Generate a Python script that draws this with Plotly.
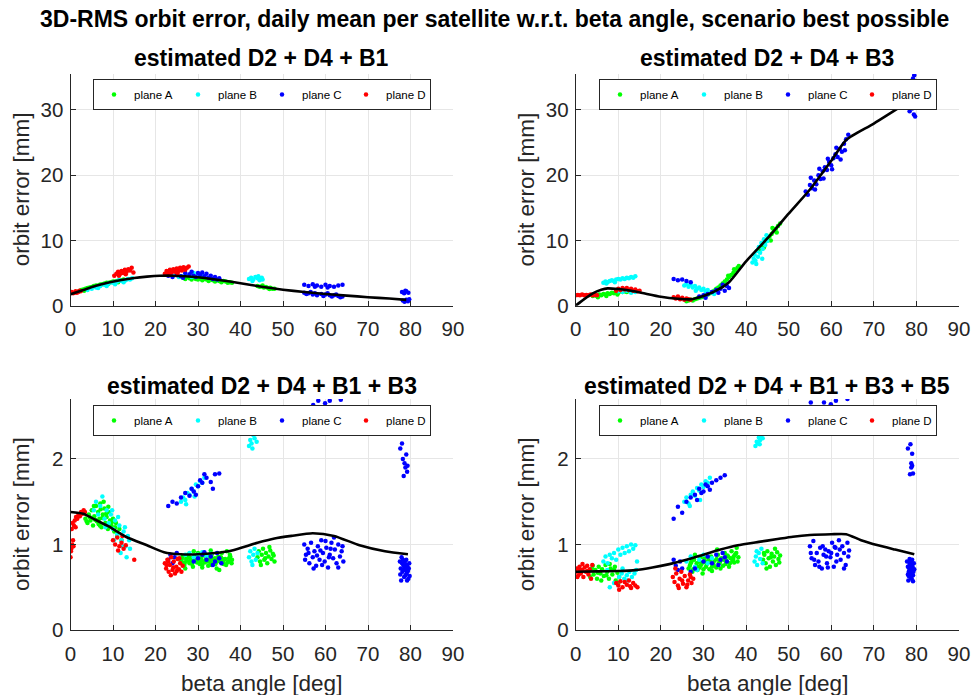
import plotly.graph_objects as go

# ---------------- data ----------------
plane_names = ["plane A", "plane B", "plane C", "plane D"]
plane_colors = ["#00ff00", "#00ffff", "#0000ff", "#ff0000"]
panel_titles = ["estimated D2 + D4 + B1", "estimated D2 + D4 + B3",
                "estimated D2 + D4 + B1 + B3", "estimated D2 + D4 + B1 + B3 + B5"]
x_ticks = [0, 10, 20, 30, 40, 50, 60, 70, 80, 90]
y_ticks_top = [0, 10, 20, 30]
y_ticks_bottom = [0, 1, 2]

# ---- panel 1 : D2 + D4 + B1 ----
p1_A_x = [2.0, 2.5, 3.0, 3.5, 4.0, 4.5, 5.0, 5.5, 6.0, 6.5, 7.0, 7.5, 8.0, 8.5, 9.0, 9.5, 10.0, 10.5, 11.0, 11.5, 12.0, 12.5, 3.2, 6.2, 8.8, 11.2,
          26.5, 27, 27.5, 28, 28.5, 29, 29.5, 30, 30.5, 31, 31.5, 32, 32.5, 33, 33.5, 34, 34.5, 35, 35.5, 36, 36.5, 37, 37.5, 38,
          44, 44.5, 45, 45.5, 46, 46.5, 47, 47.5, 48, 45.2, 46.8]
p1_A_y = [2.2, 2.4, 2.5, 2.6, 2.7, 2.8, 2.85, 3.0, 3.1, 3.1, 3.25, 3.3, 3.4, 3.5, 3.5, 3.6, 3.7, 3.7, 3.8, 3.9, 3.9, 4.0, 2.3, 2.9, 3.3, 3.6,
          4.3, 4.1, 4.4, 4.2, 4.0, 4.3, 4.1, 4.0, 4.2, 3.9, 4.1, 4.0, 3.8, 4.0, 3.9, 3.7, 3.9, 3.8, 3.6, 3.8, 3.7, 3.5, 3.6, 3.5,
          3.0, 2.9, 2.95, 2.8, 2.85, 2.7, 2.75, 2.6, 2.6, 3.1, 2.55]
p1_B_x = [4, 5, 6, 7, 8, 9, 10, 11, 12, 13, 14, 14.5, 13.5, 12.5, 10.5, 8.5, 6.5, 11.5,
          24, 25, 26, 27, 28, 29, 30, 31, 25.5, 28.5,
          42, 42.5, 43, 43.5, 44, 44.5, 45, 42.8, 44.2, 45.2]
p1_B_y = [2.4, 2.6, 2.8, 3.0, 3.2, 3.4, 3.5, 3.7, 3.8, 3.9, 4.0, 4.2, 4.1, 3.6, 3.3, 3.0, 2.7, 3.9,
          4.6, 4.8, 4.5, 4.9, 4.7, 5.0, 4.6, 4.8, 4.4, 4.4,
          4.1, 4.3, 4.0, 4.4, 4.2, 3.9, 4.3, 3.8, 4.5, 4.0]
p1_C_x = [23, 23.5, 24, 25, 26, 27, 28, 28.5, 29, 30, 30.5, 31, 31.5, 32, 32.5, 33, 33.5, 34, 34.5, 35, 26.5, 29.5,
          55, 56, 57, 58, 59, 60, 61, 62, 63, 64, 57.5, 60.5,
          55, 55.5, 56, 57, 57.5, 58, 59, 59.5, 60, 61, 61.5, 62, 63, 63.5, 64, 56.5, 60.5, 62.5,
          78, 78.5, 79, 79.5, 78.2, 78.6, 79, 79.4, 79.7, 78.8]
p1_C_y = [4.6, 4.8, 4.4, 4.7, 4.5, 5.0, 4.8, 5.2, 4.6, 5.0, 4.7, 5.1, 4.5, 4.9, 4.3, 4.6, 4.1, 4.4, 4.0, 4.2, 4.3, 4.4,
          3.2, 3.0, 3.3, 3.1, 2.9, 3.2, 3.0, 2.9, 3.1, 3.2, 2.9, 2.8,
          2.0, 1.8, 1.9, 1.7, 1.9, 1.6, 1.8, 1.5, 1.7, 1.6, 1.4, 1.6, 1.5, 1.3, 1.4, 2.1, 1.9, 1.7,
          2.1, 1.9, 2.2, 2.0, 0.8, 0.6, 0.9, 0.7, 1.0, 2.3]
p1_D_x = [0, 0.3, 0.6, 0.9, 1.2, 1.5, 1.8, 2.1, 2.4,
          10.3, 10.8, 11.2, 11.6, 12, 12.4, 12.8, 13.2, 13.6, 14, 14.4, 14.8, 11.4, 13,
          22.2, 22.6, 23, 23.4, 23.8, 24.2, 24.6, 25, 25.4, 25.8, 26.2, 26.6, 27, 27.4, 27.8, 23.2, 25.2]
p1_D_y = [2.0, 2.1, 1.9, 2.0, 2.2, 2.0, 2.1, 2.3, 2.2,
          4.6, 4.9, 5.2, 4.8, 5.3, 5.0, 5.5, 5.2, 5.6, 5.4, 5.8, 5.1, 4.6, 4.8,
          4.9, 5.3, 5.0, 5.5, 5.1, 5.6, 5.2, 5.7, 5.3, 5.8, 5.4, 5.9, 5.5, 5.8, 6.0, 4.7, 4.9]
p1_line_x = [0, 3, 6, 9, 12, 15, 18, 21, 24, 27, 30, 35, 40, 45, 50, 55, 60, 65, 70, 75, 79]
p1_line_y = [1.75, 2.4, 3.05, 3.55, 3.95, 4.25, 4.45, 4.58, 4.6, 4.52, 4.35, 3.95, 3.45, 2.9, 2.45, 2.1, 1.8, 1.55, 1.3, 1.1, 0.9]

# ---- panel 2 : D2 + D4 + B3 ----
p2_A_x = [4, 4.5, 5, 5.5, 6, 6.5, 7, 7.5, 8, 8.5, 9, 9.5, 10, 10.5, 11, 11.5, 12, 5.2, 7.2, 9.8,
          26, 26.5, 27, 27.5, 28, 28.5, 29, 29.5, 30, 30.5, 31, 31.5, 32, 32.5, 33, 33.5, 34, 34.5, 35, 35.5, 36, 36.5, 37, 37.5, 38, 38.3, 35.8, 37.2,
          43, 43.5, 44, 44.5, 45, 45.5, 46, 46.5, 47, 47.5, 48, 44.2, 45.8, 47.2, 46.2]
p2_A_y = [1.5, 1.6, 1.5, 1.7, 1.6, 1.8, 1.7, 1.9, 1.8, 2.0, 1.9, 2.1, 2.0, 2.2, 2.1, 2.2, 2.1, 1.3, 1.5, 1.7,
          0.7, 0.8, 0.9, 0.8, 1.0, 1.1, 1.2, 1.3, 1.4, 1.6, 1.7, 1.9, 2.1, 2.3, 2.6, 2.8, 3.1, 3.4, 3.7, 4.0, 4.4, 4.7, 5.0, 5.4, 5.8, 6.1, 4.6, 5.6,
          8.6, 9.0, 9.4, 9.8, 10.2, 10.6, 11.0, 11.4, 11.8, 12.2, 12.6, 8.9, 10.0, 11.2, 11.9]
p2_B_x = [6.5, 7, 7.5, 8, 8.5, 9, 9.5, 10, 10.5, 11, 11.5, 12, 12.5, 13, 13.5, 14, 7.2, 9.2,
          10, 11, 12, 13, 14, 11.5,
          25.5, 26, 26.5, 27, 27.5, 28, 28.5, 29, 29.5, 30, 30.5, 31, 31.5, 32, 32.5, 28.2,
          41.5, 41.8, 42, 42.2, 42.5, 42.8, 43, 43.3, 43.6, 43.9, 44.2, 44.5, 44.8, 45, 42.4, 43.8]
p2_B_y = [3.5, 3.7, 3.6, 3.8, 3.9, 3.8, 4.0, 4.1, 4.0, 4.2, 4.1, 4.3, 4.2, 4.4, 4.3, 4.5, 3.4, 3.6,
          2.2, 2.1, 2.3, 2.0, 2.1, 2.4,
          3.1, 3.3, 2.9, 3.2, 2.8, 3.0, 2.6, 2.8, 2.4, 2.6, 2.2, 2.4, 2.0, 2.1, 1.8, 2.3,
          6.6, 7.2, 7.8, 6.9, 8.4, 7.5, 9.0, 8.1, 9.6, 8.7, 10.2, 9.3, 10.8, 9.9, 6.4, 7.2]
p2_C_x = [23, 24, 25, 26, 27,
          29, 30, 31, 32, 33, 34, 35, 36, 33.5, 35.5, 30.5, 34.5,
          54, 54.5, 55, 55.5, 56, 56.5, 57, 57.5, 58, 58.5, 59, 59.5, 60, 60.5, 61, 61.5, 62, 62.5, 63, 63.5, 64, 55.2, 57.2, 59.2, 61.2, 63.2, 56.2, 58.2, 60.2, 62.2,
          77.8, 78, 78.2, 78.4, 78.6, 78.8, 79, 79.2, 79.4, 79.6, 79.8, 79.2, 79.5, 78.9, 80, 79.7]
p2_C_y = [4.1, 3.9, 4.0, 3.8, 3.6,
          1.4, 1.6, 1.8, 2.1, 2.4, 2.6, 2.3, 2.7, 2.0, 3.0, 1.2, 3.2,
          17.5, 17.0, 18.5, 18.0, 19.2, 18.6, 20.0, 19.4, 20.6, 21.2, 20.8, 22.0, 21.5, 22.6, 23.2, 22.8, 24.0, 23.6, 24.8, 25.5, 26.2, 19.6, 21.0, 22.5, 24.2, 23.8, 17.8, 19.5, 20.9, 22.4,
          31.5, 30.5, 32.2, 29.8, 31.0, 32.8, 30.2, 31.8, 29.3, 33.5, 30.8, 34.8, 35.3, 33.9, 31.2, 29.0]
p2_D_x = [0, 0.5, 1, 1.5, 2, 2.5, 3, 3.5, 4, 4.5, 5,
          9.5, 10, 10.5, 11, 11.5, 12, 12.5, 13, 13.5, 14, 14.5, 15,
          23, 23.5, 24, 24.5, 25, 25.5, 26, 26.5, 27]
p2_D_y = [1.6, 1.65, 1.6, 1.7, 1.6, 1.65, 1.6, 1.7, 1.6, 1.65, 1.6,
          2.3, 2.6, 2.4, 2.7, 2.5, 2.7, 2.4, 2.6, 2.3, 2.5, 2.2, 2.3,
          1.3, 1.1, 1.4, 1.0, 1.2, 0.9, 1.1, 1.0, 0.9]
p2_line_x = [0, 2, 4, 6, 7.5, 10, 13, 16, 20, 24, 27, 30, 33, 36, 40, 45, 50, 55, 60, 63.5, 70, 79]
p2_line_y = [0.0, 1.0, 1.9, 2.45, 2.65, 2.55, 2.3, 1.9, 1.38, 1.07, 0.98, 1.5, 2.3, 3.6, 6.8, 10.3, 14.1, 17.8, 22.2, 25.4, 27.9, 31.6]

# ---- panel 3 : D2 + D4 + B1 + B3 ----
p3_A_x = [3.5, 4, 4.3, 4.7, 5, 5.3, 5.6, 6, 6.2, 6.5, 6.8, 7, 7.3, 7.6, 8, 8.2, 8.5, 8.8, 9, 9.3, 9.6, 10, 10.3, 10.7, 11, 11.5, 12, 5.5, 7.8, 6.6,
          4.5, 5.8, 7.1, 8.4, 9.7, 6.9, 8.9, 10.5, 3.8, 7.5,
          26, 26.4, 26.8, 27.2, 27.6, 28, 28.4, 28.8, 29.2, 29.6, 30, 30.4, 30.8, 31.2, 31.6, 32, 32.4, 32.8, 33.2, 33.6, 34, 34.4, 34.8, 35.2, 35.6, 36, 36.4, 36.8, 37.2, 37.6, 38, 27, 29, 31, 33, 35, 30.2, 32.2, 34.2, 28.2,
          26.2, 26.7, 27.4, 27.9, 28.6, 29.1, 29.8, 30.5, 31.0, 31.7, 32.3, 32.9, 33.5, 34.1, 34.7, 35.4, 35.9, 36.6, 37.3, 37.9, 26.9, 28.3, 29.4, 30.7, 31.9, 33.1, 34.5, 35.7, 36.9, 37.5,
          44, 44.3, 44.6, 45, 45.3, 45.6, 46, 46.3, 46.6, 47, 47.3, 47.6, 48, 44.8, 46.8, 45.8, 47.8]
p3_A_y = [1.30, 1.25, 1.35, 1.28, 1.40, 1.22, 1.33, 1.45, 1.27, 1.38, 1.30, 1.48, 1.20, 1.35, 1.42, 1.25, 1.32, 1.18, 1.38, 1.28, 1.22, 1.30, 1.15, 1.25, 1.10, 1.18, 1.05, 1.45, 1.50, 1.24,
          1.32, 1.29, 1.41, 1.36, 1.26, 1.22, 1.44, 1.20, 1.27, 1.31,
          0.80, 0.86, 0.76, 0.83, 0.88, 0.78, 0.84, 0.74, 0.86, 0.80, 0.90, 0.77, 0.83, 0.87, 0.79, 0.85, 0.75, 0.82, 0.88, 0.78, 0.84, 0.72, 0.86, 0.80, 0.90, 0.77, 0.83, 0.92, 0.80, 0.86, 0.82, 0.72, 0.92, 0.73, 0.93, 0.70, 0.81, 0.80, 0.79, 0.81,
          0.83, 0.78, 0.81, 0.85, 0.77, 0.82, 0.79, 0.84, 0.76, 0.81, 0.87, 0.79, 0.83, 0.77, 0.81, 0.85, 0.80, 0.76, 0.84, 0.78, 0.79, 0.80, 0.83, 0.80, 0.82, 0.76, 0.81, 0.83, 0.79, 0.88,
          0.85, 0.92, 0.80, 0.88, 0.95, 0.82, 0.90, 0.78, 0.86, 0.93, 0.83, 0.89, 0.80, 0.76, 0.97, 0.84, 0.87]
p3_B_x = [5.5, 6, 6.5, 7, 7.5, 8, 8.5, 9, 9.5, 10, 10.5, 11, 11.5, 12, 12.5, 13, 13.5, 14, 11.8, 13.2, 10.2, 12.8, 9.8, 8.2, 13.8, 12.2, 11.2,
          26, 26.5, 27, 27.5, 28, 28.5, 29, 29.5, 30, 30.5, 31, 31.5, 27.2, 29.2,
          27, 28, 29, 30, 31, 32, 33,
          42, 42.3, 42.6, 43, 43.3, 43.6, 44, 44.3, 44.6, 45, 42.8, 43.8,
          42, 42.3, 42.6, 43, 43.3, 43.6, 44, 42.8]
p3_B_y = [1.40, 1.50, 1.35, 1.45, 1.56, 1.30, 1.40, 1.25, 1.35, 1.18, 1.28, 1.12, 1.22, 1.05, 1.15, 0.98, 1.10, 0.95, 0.90, 0.85, 1.05, 1.20, 1.40, 1.20, 1.05, 0.98, 1.32,
          1.50, 1.55, 1.52, 1.60, 1.58, 1.65, 1.62, 1.70, 1.68, 1.74, 1.72, 1.78, 1.47, 1.56,
          0.88, 0.90, 0.85, 0.88, 0.91, 0.86, 0.89,
          2.15, 2.22, 2.18, 2.28, 2.24, 2.32, 2.30, 2.38, 2.35, 2.42, 2.12, 2.20,
          0.85, 0.92, 0.80, 0.88, 0.95, 0.82, 0.90, 0.76]
p3_C_x = [23, 24, 25, 26, 27, 28, 28.5, 29, 30, 30.5, 31, 31.5, 32, 33, 34, 35, 33.5, 29.5,
          23, 23.5, 24, 24.5, 25, 29, 30, 31, 32, 33, 34, 34.5, 35, 35.5, 31.5, 33.5,
          56.2, 57.1, 58.3, 59.9, 61.0, 63.6, 58.8, 62.2,
          55, 55.4, 55.8, 56.2, 56.6, 57, 57.4, 57.8, 58.2, 58.6, 59, 59.4, 59.8, 60.2, 60.6, 61, 61.4, 61.8, 62.2, 62.6, 63, 63.4, 63.8, 64.2, 56, 57.2, 58, 59.2, 60, 61.2, 62, 63, 64, 55.2, 58.8, 60.8,
          77.6, 78, 78.4, 78.6, 78.8, 79, 79.2, 79.3, 78.2,
          77.5, 77.7, 77.9, 78.1, 78.3, 78.5, 78.7, 78.9, 79.1, 79.3, 79.5, 79.7, 77.6, 77.8, 78, 78.2, 78.4, 78.6, 78.8, 79, 79.2, 79.4, 79.6, 79.8, 78.5, 79]
p3_C_y = [1.45, 1.50, 1.48, 1.55, 1.60, 1.57, 1.65, 1.62, 1.68, 1.75, 1.72, 1.82, 1.78, 1.73, 1.82, 1.83, 1.65, 1.58,
          0.82, 0.88, 0.78, 0.85, 0.90, 0.80, 0.84, 0.88, 0.82, 0.86, 0.80, 0.90, 0.84, 0.78, 0.91, 0.76,
          2.33, 2.63, 2.68, 2.65, 2.68, 2.69, 2.85, 2.90,
          1.00, 0.88, 0.95, 0.78, 1.02, 0.85, 0.92, 0.75, 0.98, 0.82, 1.05, 0.90, 0.80, 0.96, 0.73, 0.88, 1.02, 0.84, 0.94, 0.78, 1.00, 0.86, 0.92, 0.80, 0.90, 0.72, 0.87, 0.76, 1.04, 0.95, 1.08, 0.73, 0.98, 0.82, 0.93, 0.85,
          2.12, 2.18, 1.80, 1.95, 1.90, 2.05, 1.85, 1.92, 2.00,
          0.80, 0.72, 0.85, 0.68, 0.76, 0.62, 0.80, 0.70, 0.66, 0.74, 0.60, 0.78, 0.65, 0.58, 0.78, 0.82, 0.70, 0.73, 0.64, 0.82, 0.58, 0.69, 0.72, 0.63, 0.75, 0.76]
p3_D_x = [0, 0.2, 0.4, 0.6, 0.3, 0.8, 1, 1.3, 1.6, 1.9, 2.2, 2.5, 2.8, 3.1, 3.4, 0.5, 1.2, 0.1, 0.7,
          10, 10.5, 11, 11.5, 12, 12.5, 13, 11.2, 12.2, 15,
          22.2, 22.5, 22.8, 23.1, 23.4, 23.7, 24, 24.3, 24.6, 24.9, 25.2, 25.5, 25.8, 26.1, 26.4, 23, 24.2, 25, 23.6, 25.6, 22.6]
p3_D_y = [0.85, 0.95, 1.00, 1.05, 1.18, 1.22, 1.28, 1.32, 1.30, 1.35, 1.33, 1.38, 1.36, 1.40, 1.38, 1.25, 1.20, 0.92, 0.98,
          1.05, 1.00, 1.08, 0.98, 1.02, 0.95, 0.99, 0.93, 1.10, 0.82,
          0.78, 0.72, 0.82, 0.68, 0.76, 0.85, 0.70, 0.80, 0.66, 0.74, 0.83, 0.71, 0.78, 0.68, 0.75, 0.80, 0.73, 0.69, 0.64, 0.84, 0.76]
p3_line_x = [0, 3, 5, 9, 13, 18, 22, 26, 30, 34, 38, 44, 48, 52, 57, 62, 68, 74, 79.4]
p3_line_y = [1.38, 1.36, 1.31, 1.21, 1.09, 0.99, 0.91, 0.885, 0.885, 0.90, 0.93, 1.02, 1.07, 1.10, 1.13, 1.10, 0.99, 0.92, 0.885]

# ---- panel 4 : D2 + D4 + B1 + B3 + B5 ----
p4_A_x = [3, 3.4, 3.8, 4.2, 4.6, 5, 5.4, 5.8, 6.2, 6.6, 7, 7.4, 7.8, 8.2, 8.6, 9, 9.4, 9.8, 10.2, 4, 6, 8, 5.2, 7.2, 9.2, 10,
          26.5, 27, 27.4, 27.8, 28.2, 28.6, 29, 29.4, 29.8, 30.2, 30.6, 31, 31.4, 31.8, 32.2, 32.6, 33, 33.4, 33.8, 34.2, 34.6, 35, 35.4, 35.8, 36.2, 36.6, 37, 37.4, 37.8, 38.2, 28, 30, 32, 34, 36, 38, 29.2, 31.2, 33.2, 35.2, 37.2,
          26.8, 27.6, 28.4, 29.1, 29.9, 30.8, 31.6, 32.4, 33.1, 33.9, 34.8, 35.6, 36.4, 37.1, 37.7, 27.2, 28.9, 30.4, 32.0, 33.6, 35.0, 36.8,
          44, 44.3, 44.6, 45, 45.3, 45.6, 46, 46.3, 46.6, 47, 47.3, 47.6, 48, 44.8, 46.8, 45.8, 47.8, 44.2]
p4_A_y = [0.68, 0.62, 0.72, 0.65, 0.70, 0.60, 0.74, 0.66, 0.71, 0.63, 0.76, 0.68, 0.60, 0.72, 0.65, 0.70, 0.58, 0.67, 0.62, 0.75, 0.58, 0.77, 0.67, 0.64, 0.74, 0.55,
          0.72, 0.78, 0.68, 0.82, 0.74, 0.70, 0.80, 0.76, 0.66, 0.84, 0.74, 0.79, 0.71, 0.86, 0.77, 0.81, 0.73, 0.88, 0.79, 0.84, 0.75, 0.90, 0.81, 0.86, 0.78, 0.92, 0.83, 0.88, 0.96, 0.85, 0.88, 0.71, 0.69, 0.72, 0.74, 0.80, 0.85, 0.83, 0.94, 0.77, 0.79,
          0.75, 0.71, 0.78, 0.73, 0.79, 0.77, 0.82, 0.76, 0.83, 0.80, 0.82, 0.87, 0.84, 0.86, 0.90, 0.80, 0.74, 0.80, 0.74, 0.78, 0.84, 0.81,
          0.82, 0.88, 0.78, 0.92, 0.84, 0.74, 0.89, 0.80, 0.86, 0.76, 0.91, 0.83, 0.87, 0.72, 0.95, 0.85, 0.79, 0.90]
p4_B_x = [6.5, 7, 7.5, 8, 8.5, 9, 9.5, 10, 10.5, 11, 11.5, 12, 12.5, 13, 13.5, 14, 10.2, 10.8, 11.4, 12, 12.6, 13.2, 13.8, 14.2, 11, 12.2, 8, 9, 7.4, 14.4,
          25.5, 26, 26.5, 27, 27.5, 28, 28.5, 29, 29.5, 30, 30.5, 31, 31.5, 26.8, 29.2,
          26, 27, 28, 29, 30, 31, 32, 28.5,
          42.2, 42.5, 42.8, 43, 43.3, 43.6, 43.9, 44.2, 44.5, 44.8, 43.2,
          42, 42.3, 42.6, 43, 43.3, 43.6, 43.9, 42.5]
p4_B_y = [0.80, 0.86, 0.78, 0.88, 0.84, 0.90, 0.82, 0.94, 0.88, 0.96, 0.90, 0.98, 0.92, 1.00, 0.95, 0.99, 0.62, 0.66, 0.60, 0.64, 0.68, 0.62, 0.66, 0.70, 0.72, 0.58, 0.50, 0.55, 0.70, 0.80,
          1.50, 1.55, 1.48, 1.58, 1.62, 1.57, 1.66, 1.63, 1.70, 1.67, 1.74, 1.72, 1.78, 1.45, 1.52,
          0.80, 0.86, 0.74, 0.82, 0.88, 0.78, 0.84, 0.70,
          2.15, 2.20, 2.18, 2.25, 2.22, 2.28, 2.24, 2.32, 2.35, 2.30, 2.17,
          0.80, 0.86, 0.76, 0.90, 0.83, 0.95, 0.78, 0.92]
p4_C_x = [23, 24, 25, 26, 27, 28, 28.5, 29, 30, 30.5, 31, 32, 33, 34, 35, 29.5, 31.5,
          23, 23.5, 24, 24.5, 25, 27, 28, 30, 31, 32, 33, 34, 34.5, 35, 35.5, 33.5,
          55.2, 56.3, 58.3, 59.9, 61.1, 63.8, 57.5, 62.5,
          55, 55.4, 55.8, 56.2, 56.6, 57, 57.4, 57.8, 58.2, 58.6, 59, 59.4, 59.8, 60.2, 60.6, 61, 61.4, 61.8, 62.2, 62.6, 63, 63.4, 63.8, 64.2, 56, 57.2, 58, 59.2, 60, 61.2, 62, 63, 64, 55.2, 58.8, 60.8,
          78, 78.6, 79, 78.8, 79, 78.8, 78.5, 79.2,
          77.8, 78, 78.2, 78.4, 78.6, 78.8, 79, 79.2, 79.4, 78.1, 78.3, 78.5, 78.7, 78.9, 79.1, 79.3, 79.5, 78, 78.4, 78.8, 79.2, 78.6, 79, 78.2]
p4_C_y = [1.30, 1.44, 1.37, 1.50, 1.55, 1.58, 1.52, 1.65, 1.62, 1.70, 1.68, 1.72, 1.75, 1.78, 1.81, 1.60, 1.64,
          0.82, 0.75, 0.70, 0.80, 0.72, 0.68, 0.72, 0.80, 0.86, 0.78, 0.88, 0.82, 0.90, 0.85, 0.80, 0.76,
          2.66, 2.32, 2.66, 2.64, 2.68, 2.70, 2.85, 2.90,
          0.98, 0.84, 1.04, 0.76, 0.90, 0.80, 0.96, 0.72, 0.88, 0.94, 0.78, 0.92, 0.85, 1.02, 0.74, 0.96, 0.88, 1.05, 0.82, 0.98, 0.90, 0.76, 1.02, 0.93, 0.82, 0.74, 0.98, 0.73, 0.90, 0.80, 0.94, 0.72, 0.86, 0.90, 0.86, 0.97,
          2.12, 2.17, 2.06, 1.95, 1.92, 1.90, 1.82, 1.83,
          0.80, 0.74, 0.68, 0.83, 0.62, 0.76, 0.70, 0.64, 0.78, 0.58, 0.72, 0.66, 0.80, 0.60, 0.74, 0.68, 0.71, 0.65, 0.77, 0.68, 0.57, 0.73, 0.82, 0.63]
p4_D_x = [0, 0.3, 0.6, 0.9, 1.2, 1.5, 1.8, 2.1, 2.4, 2.7, 3, 3.3, 3.6, 3.9, 0.4, 1.6, 2.8, 1,
          9.5, 10, 10.5, 11, 11.5, 12, 12.5, 13, 13.5, 14, 14.5, 10.2, 12.8,
          22.8, 23.2, 23.6, 24, 24.4, 24.8, 25.2, 25.6, 26, 26.4, 26.8, 27.2, 27.6, 23.4, 25, 26.2, 24.2, 27]
p4_D_y = [0.68, 0.72, 0.64, 0.74, 0.66, 0.70, 0.62, 0.73, 0.68, 0.75, 0.65, 0.71, 0.60, 0.76, 0.62, 0.77, 0.69, 0.70,
          0.55, 0.52, 0.57, 0.50, 0.56, 0.53, 0.58, 0.49, 0.55, 0.52, 0.50, 0.47, 0.51,
          0.62, 0.56, 0.66, 0.52, 0.60, 0.68, 0.54, 0.63, 0.50, 0.58, 0.65, 0.55, 0.60, 0.72, 0.58, 0.53, 0.49, 0.62]
p4_line_x = [0, 5, 10, 14, 18, 22, 26, 30, 34, 38, 43, 47, 51, 55, 60, 63.5, 67, 71, 75, 79.5]
p4_line_y = [0.68, 0.685, 0.69, 0.70, 0.73, 0.77, 0.82, 0.88, 0.94, 0.99, 1.03, 1.06, 1.09, 1.11, 1.12, 1.12, 1.05, 0.99, 0.94, 0.885]

# ---------------- figure ----------------
W, H = 971, 695
FONT = "Liberation Sans, Arial, sans-serif"
AX_COL = "#262626"

panels = [
    ([(p1_A_x, p1_A_y), (p1_B_x, p1_B_y), (p1_C_x, p1_C_y), (p1_D_x, p1_D_y)], (p1_line_x, p1_line_y)),
    ([(p2_A_x, p2_A_y), (p2_B_x, p2_B_y), (p2_C_x, p2_C_y), (p2_D_x, p2_D_y)], (p2_line_x, p2_line_y)),
    ([(p3_A_x, p3_A_y), (p3_B_x, p3_B_y), (p3_C_x, p3_C_y), (p3_D_x, p3_D_y)], (p3_line_x, p3_line_y)),
    ([(p4_A_x, p4_A_y), (p4_B_x, p4_B_y), (p4_C_x, p4_C_y), (p4_D_x, p4_D_y)], (p4_line_x, p4_line_y)),
]

# pixel geometry of the four axes (left, right, top, bottom)
ax_px = [(70.5, 453, 74, 305.7), (575.7, 959, 74, 305.7),
         (70.5, 453, 399, 630), (575.7, 959, 399, 630)]
legend_px = [(93, 79), (599, 79), (93, 405), (599, 405)]
title_y_px = [58, 58, 386, 386]

fig = go.Figure()
for i, (scat, line) in enumerate(panels):
    n = "" if i == 0 else str(i + 1)
    leg = "legend" + n
    for j, (xs, ys) in enumerate(scat):
        fig.add_trace(go.Scatter(x=xs, y=ys, mode="markers", name=plane_names[j],
                                 marker=dict(color=plane_colors[j], size=4.5, line=dict(width=0)),
                                 xaxis="x" + n, yaxis="y" + n, legend=leg))
    fig.add_trace(go.Scatter(x=line[0], y=line[1], mode="lines",
                             line=dict(color="black", width=2.6, shape="spline", smoothing=0.6),
                             showlegend=False, xaxis="x" + n, yaxis="y" + n))

layout = dict(width=W, height=H, margin=dict(l=0, r=0, t=0, b=0, autoexpand=False),
              paper_bgcolor="white", plot_bgcolor="white",
              font=dict(family=FONT, color=AX_COL), showlegend=True)
annotations = []
for i, (l, r, t, b) in enumerate(ax_px):
    n = "" if i == 0 else str(i + 1)
    top_row = i < 2
    common = dict(showline=True, linecolor=AX_COL, linewidth=1,
                  ticks="inside", ticklen=5, tickcolor=AX_COL,
                  showgrid=True, gridcolor="#e6e6e6", gridwidth=1, zeroline=False,
                  tickfont=dict(size=20.5, color=AX_COL, family=FONT))
    layout["xaxis" + n] = dict(domain=[l / W, r / W], range=[0, 90], tickvals=x_ticks,
                               anchor="y" + n, ticklabelstandoff=5, **common)
    layout["yaxis" + n] = dict(domain=[1 - b / H, 1 - t / H],
                               range=[0, 35.5] if top_row else [0, 2.7],
                               tickvals=y_ticks_top if top_row else y_ticks_bottom,
                               anchor="x" + n, ticklabelstandoff=2, **common)
    lx, ly = legend_px[i]
    layout["legend" + n] = dict(orientation="h", x=lx / W, y=1 - ly / H, xanchor="left", yanchor="top",
                                bgcolor="white", bordercolor=AX_COL, borderwidth=1,
                                font=dict(size=11.5, family=FONT, color="black"),
                                entrywidth=39, entrywidthmode="pixels")
    cx = (l + r) / 2
    annotations.append(dict(text="<b>" + panel_titles[i] + "</b>", x=cx / W, y=1 - title_y_px[i] / H,
                            xref="paper", yref="paper", showarrow=False, xanchor="center", yanchor="middle",
                            font=dict(size=23, family=FONT, color="black")))
    annotations.append(dict(text="orbit error [mm]", x=(l - 49) / W, y=1 - ((t + b) / 2) / H,
                            xref="paper", yref="paper", showarrow=False, textangle=-90,
                            xanchor="center", yanchor="middle",
                            font=dict(size=22.5, family=FONT, color=AX_COL)))
    if not top_row:
        annotations.append(dict(text="beta angle [deg]", x=cx / W, y=1 - 683 / H,
                                xref="paper", yref="paper", showarrow=False,
                                xanchor="center", yanchor="middle",
                                font=dict(size=22.5, family=FONT, color=AX_COL)))
annotations.append(dict(text="<b>3D-RMS orbit error, daily mean per satellite w.r.t. beta angle, scenario best possible</b>",
                        x=494 / W, y=1 - 19 / H, xref="paper", yref="paper", showarrow=False,
                        xanchor="center", yanchor="middle", font=dict(size=23, family=FONT, color="black")))
layout["annotations"] = annotations
fig.update_layout(**layout)
fig.write_html("out.html", config={"displayModeBar": False},
               post_script="document.body.style.margin='0px';document.body.style.padding='0px';")
